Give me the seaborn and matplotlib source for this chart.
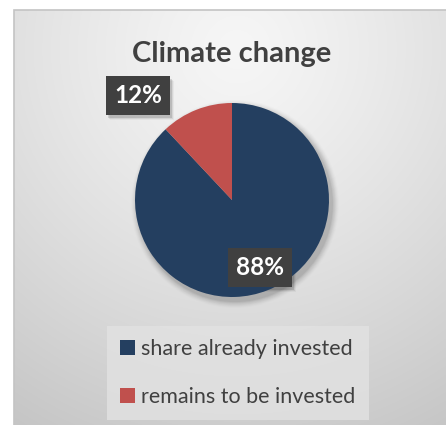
import numpy as np
import matplotlib
matplotlib.use("Agg")
import matplotlib.pyplot as plt
from matplotlib.patches import Rectangle
import seaborn as sns

# Chart data
title = "Climate change"
categories = ["share already invested", "remains to be invested"]
shares = [88, 12]
colors = ["#243F60", "#C0504D"]

sns.set_theme(style="white")
plt.rcParams["font.family"] = ["Lato", "DejaVu Sans"]

W, H = 446, 425
fig = plt.figure(figsize=(W / 100, H / 100), dpi=100, facecolor="white")

# Chart-area background: soft radial grey gradient inside a thin frame
bg = fig.add_axes([0, 0, 1, 1])
bg.set_xlim(0, W)
bg.set_ylim(H, 0)
bg.axis("off")
yy, xx = np.mgrid[0:H, 0:W]
d = np.hypot(xx - 230, (yy - 40) * 1.0) / 441.0
shade = 246 - 48 * np.clip(d, 0, 1.2) ** 1.25
img = np.dstack([shade, shade, shade]) / 255.0
bg.imshow(img, extent=(14, W, H, 10), zorder=0, interpolation="bilinear")
bg.add_patch(Rectangle((14, 10), W - 13, H - 9, fill=False,
                       edgecolor="#c4c4c4", lw=1.2, zorder=1))

# Soft shadow under the pie
cx, cy, r = 232, 200, 97
for k, a in enumerate(np.linspace(0.05, 0.012, 7)):
    bg.add_patch(plt.Circle((cx + 3, cy + 4), r + 1 + k, color="black",
                            alpha=a, lw=0, zorder=2))

# Pie
pax = fig.add_axes([(cx - r) / W, (H - cy - r) / H, 2 * r / W, 2 * r / H])
wedges, _ = pax.pie(shares, colors=colors, startangle=90, counterclock=False,
                    radius=1.0, wedgeprops=dict(linewidth=0))
pax.set_xlim(-1, 1)
pax.set_ylim(-1, 1)
pax.set_aspect("equal")
pax.axis("off")

# Title
fig.text(232 / W, 1 - 62 / H, title, ha="center", va="baseline",
         fontsize=21, fontweight="bold", color="#404040")

# Data labels in dark boxes
label_pos = [(260, 275), (138, 103)]
labels = []
for val, (lx, ly) in zip(shares, label_pos):
    t = fig.text(lx / W, 1 - ly / H, f"{val}%", ha="center", va="baseline",
                 fontsize=17.5, fontweight="bold", color="white", zorder=5,
                 bbox=dict(boxstyle="square,pad=0.33", facecolor="#404040",
                           edgecolor="none"))
    labels.append(t)

# Legend
leg = fig.legend(wedges, categories, loc="upper left",
                 bbox_to_anchor=(107 / W, 1 - 326 / H),
                 fontsize=15.5, frameon=True, facecolor="#e2e2e2",
                 edgecolor="none", framealpha=0.8, fancybox=False,
                 handlelength=0.7, handleheight=0.7, handletextpad=0.3,
                 labelspacing=1.3, borderpad=0.6, borderaxespad=0)
for t in leg.get_texts():
    t.set_color("#404040")

# Drop shadows behind the label boxes
fig.canvas.draw()
renderer = fig.canvas.get_renderer()
for t in labels:
    ext = t.get_bbox_patch().get_window_extent(renderer)
    x0, x1 = ext.x0, ext.x1
    y0, y1 = H - ext.y1, H - ext.y0
    for k, a in enumerate([0.12, 0.07, 0.04]):
        bg.add_patch(Rectangle((x0 + 2 + k, y0 + 3 + k), x1 - x0, y1 - y0,
                               color="black", alpha=a, lw=0, zorder=3))

fig.savefig("out.png", dpi=100, facecolor="white")
